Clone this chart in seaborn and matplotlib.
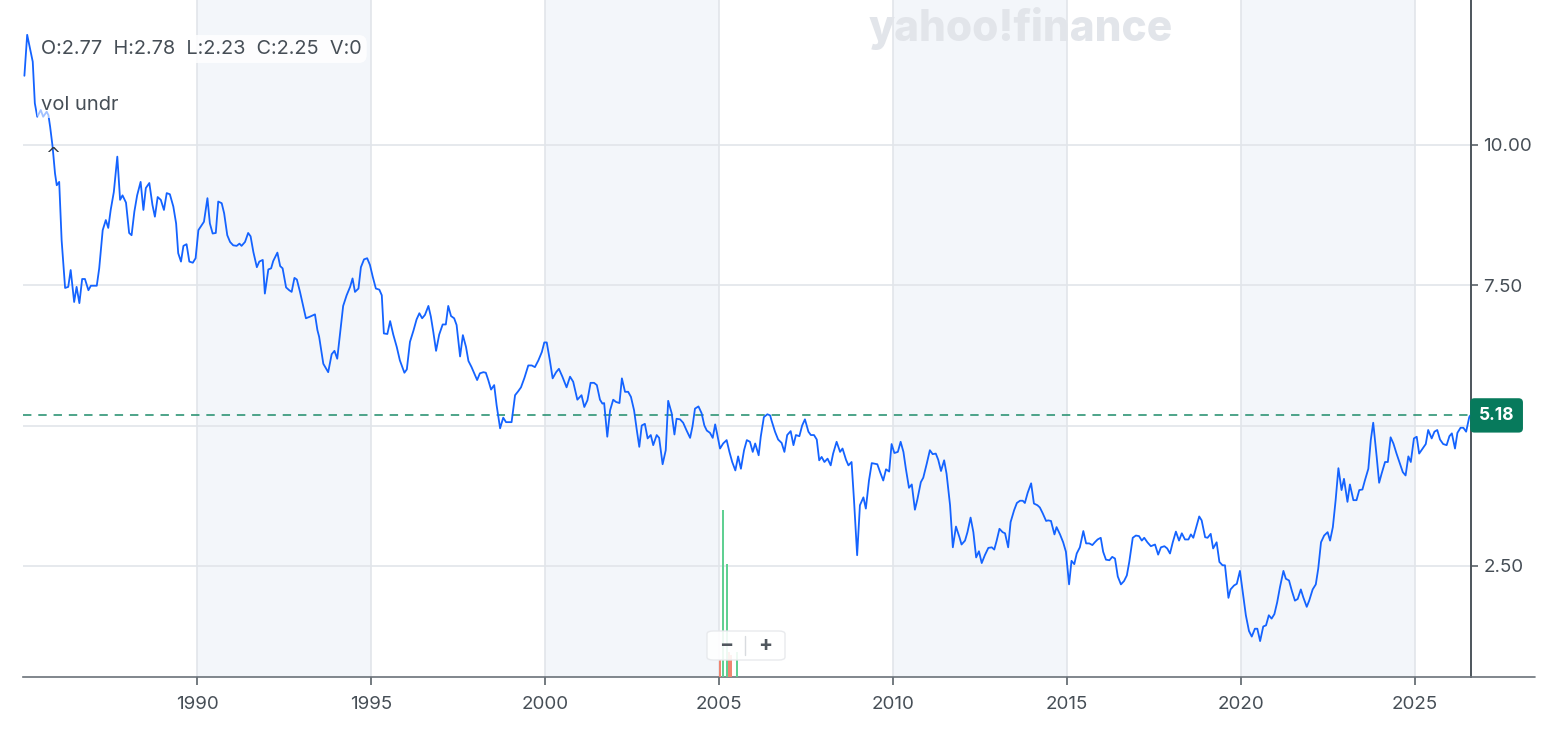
import matplotlib
matplotlib.use("Agg")
import matplotlib.pyplot as plt
from matplotlib.lines import Line2D
from matplotlib.patches import FancyBboxPatch
import seaborn as sns
import pandas as pd

# monthly 30y yield (fractional year, percent)
dates = [
    1985.04, 1985.12, 1985.28, 1985.34, 1985.41, 1985.51, 1985.58, 1985.68, 1985.73, 1985.78,
    1985.85, 1985.92, 1985.97, 1986.04, 1986.11, 1986.21, 1986.30, 1986.37, 1986.47, 1986.54,
    1986.62, 1986.70, 1986.78, 1986.88, 1986.95, 1987.12, 1987.19, 1987.29, 1987.38, 1987.45,
    1987.52, 1987.61, 1987.71, 1987.79, 1987.86, 1987.96, 1988.05, 1988.12, 1988.20, 1988.28,
    1988.38, 1988.46, 1988.53, 1988.63, 1988.72, 1988.79, 1988.87, 1988.96, 1989.05, 1989.13,
    1989.22, 1989.32, 1989.40, 1989.46, 1989.54, 1989.61, 1989.70, 1989.78, 1989.88, 1989.96,
    1990.04, 1990.20, 1990.30, 1990.37, 1990.45, 1990.54, 1990.61, 1990.71, 1990.78, 1990.87,
    1990.95, 1991.04, 1991.14, 1991.22, 1991.28, 1991.38, 1991.47, 1991.54, 1991.62, 1991.72,
    1991.79, 1991.89, 1991.95, 1992.05, 1992.13, 1992.19, 1992.31, 1992.39, 1992.46, 1992.56,
    1992.65, 1992.72, 1992.80, 1992.87, 1992.96, 1993.04, 1993.13, 1993.25, 1993.39, 1993.46,
    1993.51, 1993.63, 1993.77, 1993.87, 1993.95, 1994.03, 1994.11, 1994.20, 1994.30, 1994.40,
    1994.47, 1994.54, 1994.64, 1994.71, 1994.80, 1994.89, 1994.97, 1995.05, 1995.14, 1995.24,
    1995.31, 1995.37, 1995.47, 1995.55, 1995.64, 1995.74, 1995.83, 1995.96, 1996.03, 1996.12,
    1996.22, 1996.31, 1996.39, 1996.47, 1996.55, 1996.65, 1996.72, 1996.79, 1996.87, 1996.96,
    1997.06, 1997.15, 1997.22, 1997.30, 1997.39, 1997.46, 1997.56, 1997.64, 1997.73, 1997.80,
    1997.89, 1997.96, 1998.05, 1998.13, 1998.23, 1998.30, 1998.37, 1998.45, 1998.54, 1998.61,
    1998.71, 1998.80, 1998.88, 1999.04, 1999.14, 1999.23, 1999.31, 1999.41, 1999.52, 1999.62,
    1999.71, 1999.81, 1999.91, 1999.98, 2000.05, 2000.14, 2000.22, 2000.32, 2000.40, 2000.50,
    2000.62, 2000.72, 2000.81, 2000.93, 2001.05, 2001.13, 2001.22, 2001.31, 2001.41, 2001.49,
    2001.58, 2001.65, 2001.70, 2001.79, 2001.87, 2001.96, 2002.04, 2002.14, 2002.21, 2002.30,
    2002.39, 2002.47, 2002.56, 2002.64, 2002.71, 2002.78, 2002.87, 2002.95, 2003.04, 2003.11,
    2003.21, 2003.28, 2003.38, 2003.47, 2003.54, 2003.64, 2003.72, 2003.78, 2003.88, 2003.97,
    2004.07, 2004.17, 2004.24, 2004.31, 2004.41, 2004.50, 2004.58, 2004.65, 2004.74, 2004.82,
    2004.89, 2004.96, 2005.03, 2005.12, 2005.22, 2005.30, 2005.38, 2005.47, 2005.55, 2005.63,
    2005.72, 2005.80, 2005.89, 2005.97, 2006.04, 2006.14, 2006.20, 2006.29, 2006.39, 2006.47,
    2006.51, 2006.61, 2006.70, 2006.80, 2006.88, 2006.96, 2007.06, 2007.14, 2007.21, 2007.31,
    2007.39, 2007.47, 2007.57, 2007.64, 2007.73, 2007.81, 2007.88, 2007.95, 2008.03, 2008.12,
    2008.21, 2008.28, 2008.38, 2008.48, 2008.55, 2008.65, 2008.72, 2008.81, 2008.88, 2008.97,
    2009.05, 2009.15, 2009.22, 2009.31, 2009.39, 2009.55, 2009.63, 2009.72, 2009.80, 2009.89,
    2009.96, 2010.04, 2010.14, 2010.22, 2010.30, 2010.37, 2010.46, 2010.54, 2010.63, 2010.70,
    2010.80, 2010.87, 2010.97, 2011.06, 2011.14, 2011.23, 2011.30, 2011.38, 2011.47, 2011.54,
    2011.64, 2011.72, 2011.81, 2011.91, 2011.97, 2012.07, 2012.14, 2012.23, 2012.31, 2012.39,
    2012.47, 2012.55, 2012.64, 2012.74, 2012.84, 2012.91, 2012.98, 2013.06, 2013.15, 2013.22,
    2013.31, 2013.38, 2013.48, 2013.56, 2013.65, 2013.73, 2013.79, 2013.87, 2013.97, 2014.05,
    2014.15, 2014.22, 2014.30, 2014.40, 2014.46, 2014.54, 2014.64, 2014.70, 2014.80, 2014.89,
    2014.97, 2015.06, 2015.13, 2015.21, 2015.28, 2015.37, 2015.47, 2015.55, 2015.64, 2015.73,
    2015.80, 2015.88, 2015.97, 2016.04, 2016.12, 2016.22, 2016.30, 2016.38, 2016.46, 2016.55,
    2016.64, 2016.72, 2016.79, 2016.89, 2016.98, 2017.07, 2017.15, 2017.22, 2017.31, 2017.41,
    2017.53, 2017.62, 2017.70, 2017.80, 2017.88, 2017.96, 2018.04, 2018.13, 2018.22, 2018.30,
    2018.39, 2018.49, 2018.56, 2018.63, 2018.73, 2018.80, 2018.87, 2018.97, 2019.04, 2019.13,
    2019.20, 2019.30, 2019.38, 2019.47, 2019.54, 2019.64, 2019.70, 2019.80, 2019.88, 2019.97,
    2020.07, 2020.14, 2020.23, 2020.31, 2020.40, 2020.47, 2020.55, 2020.64, 2020.72, 2020.80,
    2020.88, 2020.96, 2021.04, 2021.12, 2021.22, 2021.29, 2021.38, 2021.46, 2021.55, 2021.63,
    2021.72, 2021.79, 2021.89, 2021.96, 2022.06, 2022.15, 2022.22, 2022.30, 2022.39, 2022.49,
    2022.56, 2022.64, 2022.72, 2022.80, 2022.89, 2022.96, 2023.06, 2023.13, 2023.23, 2023.32,
    2023.40, 2023.49, 2023.56, 2023.66, 2023.73, 2023.80, 2023.90, 2023.97, 2024.04, 2024.14,
    2024.22, 2024.30, 2024.38, 2024.47, 2024.57, 2024.65, 2024.73, 2024.81, 2024.88, 2024.97,
    2025.05, 2025.12, 2025.22, 2025.31, 2025.38, 2025.48, 2025.56, 2025.64, 2025.72, 2025.81,
    2025.91, 2025.99, 2026.06, 2026.15, 2026.22, 2026.31, 2026.39, 2026.47, 2026.56, 2026.59,
]
yields = [
    11.23, 11.96, 11.48, 10.74, 10.50, 10.62, 10.50, 10.59, 10.53, 10.32,
    9.97, 9.49, 9.28, 9.34, 8.30, 7.45, 7.47, 7.77, 7.20, 7.47,
    7.18, 7.61, 7.61, 7.41, 7.49, 7.49, 7.80, 8.48, 8.66, 8.52,
    8.84, 9.16, 9.79, 9.02, 9.10, 8.97, 8.43, 8.39, 8.81, 9.10,
    9.34, 8.84, 9.23, 9.32, 8.93, 8.72, 9.07, 9.02, 8.84, 9.14,
    9.12, 8.90, 8.60, 8.07, 7.92, 8.20, 8.23, 7.92, 7.90, 7.98,
    8.48, 8.63, 9.05, 8.60, 8.42, 8.43, 8.99, 8.96, 8.78, 8.39,
    8.27, 8.21, 8.20, 8.24, 8.20, 8.27, 8.43, 8.37, 8.09, 7.82,
    7.92, 7.95, 7.35, 7.78, 7.80, 7.93, 8.08, 7.84, 7.80, 7.46,
    7.41, 7.38, 7.63, 7.60, 7.38, 7.16, 6.91, 6.94, 6.98, 6.70,
    6.58, 6.10, 5.95, 6.27, 6.33, 6.19, 6.64, 7.13, 7.32, 7.47,
    7.62, 7.38, 7.44, 7.82, 7.96, 7.98, 7.86, 7.65, 7.44, 7.42,
    7.32, 6.64, 6.63, 6.86, 6.62, 6.40, 6.16, 5.94, 6.00, 6.49,
    6.69, 6.89, 7.00, 6.91, 6.97, 7.13, 6.94, 6.67, 6.33, 6.62,
    6.80, 6.80, 7.13, 6.95, 6.91, 6.79, 6.23, 6.61, 6.40, 6.15,
    6.04, 5.94, 5.81, 5.93, 5.95, 5.94, 5.81, 5.64, 5.72, 5.36,
    4.95, 5.14, 5.06, 5.06, 5.54, 5.61, 5.68, 5.85, 6.07, 6.07,
    6.04, 6.16, 6.31, 6.48, 6.48, 6.16, 5.84, 5.95, 6.01, 5.87,
    5.68, 5.87, 5.78, 5.46, 5.54, 5.33, 5.45, 5.76, 5.76, 5.72,
    5.46, 5.39, 5.40, 4.80, 5.27, 5.46, 5.42, 5.40, 5.84, 5.60,
    5.60, 5.51, 5.27, 4.91, 4.62, 5.00, 5.03, 4.77, 4.83, 4.65,
    4.83, 4.78, 4.31, 4.56, 5.44, 5.22, 4.84, 5.12, 5.11, 5.05,
    4.91, 4.78, 4.99, 5.30, 5.34, 5.22, 5.00, 4.91, 4.87, 4.78,
    5.02, 4.81, 4.59, 4.68, 4.74, 4.53, 4.35, 4.20, 4.45, 4.23,
    4.56, 4.74, 4.71, 4.53, 4.68, 4.47, 4.80, 5.15, 5.20, 5.18,
    5.09, 4.89, 4.75, 4.69, 4.53, 4.83, 4.90, 4.65, 4.83, 4.81,
    5.00, 5.11, 4.89, 4.83, 4.83, 4.75, 4.38, 4.44, 4.35, 4.41,
    4.29, 4.50, 4.71, 4.53, 4.59, 4.39, 4.29, 4.35, 3.67, 2.69,
    3.58, 3.72, 3.52, 4.02, 4.33, 4.31, 4.17, 4.02, 4.22, 4.18,
    4.67, 4.51, 4.53, 4.71, 4.53, 4.23, 3.89, 3.95, 3.50, 3.68,
    3.99, 4.07, 4.32, 4.56, 4.49, 4.50, 4.39, 4.19, 4.38, 4.14,
    3.58, 2.83, 3.20, 3.01, 2.88, 2.95, 3.10, 3.36, 3.10, 2.65,
    2.76, 2.55, 2.69, 2.82, 2.83, 2.79, 2.95, 3.16, 3.10, 3.08,
    2.83, 3.28, 3.49, 3.62, 3.66, 3.66, 3.62, 3.80, 3.97, 3.61,
    3.58, 3.54, 3.44, 3.30, 3.31, 3.30, 3.06, 3.19, 3.06, 2.92,
    2.75, 2.17, 2.59, 2.53, 2.72, 2.83, 3.12, 2.90, 2.90, 2.87,
    2.92, 2.97, 3.00, 2.75, 2.61, 2.60, 2.66, 2.63, 2.31, 2.17,
    2.23, 2.33, 2.57, 3.00, 3.04, 3.03, 2.95, 3.00, 2.92, 2.85,
    2.88, 2.70, 2.83, 2.85, 2.81, 2.72, 2.92, 3.11, 2.95, 3.08,
    2.97, 2.97, 3.06, 3.00, 3.22, 3.38, 3.31, 3.01, 3.00, 3.07,
    2.81, 2.92, 2.57, 2.51, 2.51, 1.93, 2.08, 2.15, 2.18, 2.41,
    1.94, 1.62, 1.34, 1.24, 1.38, 1.38, 1.16, 1.42, 1.44, 1.62,
    1.56, 1.64, 1.85, 2.12, 2.41, 2.27, 2.24, 2.06, 1.88, 1.91,
    2.08, 1.94, 1.77, 1.88, 2.08, 2.17, 2.45, 2.92, 3.04, 3.10,
    2.95, 3.19, 3.67, 4.24, 3.85, 4.05, 3.64, 3.95, 3.67, 3.67,
    3.85, 3.86, 4.02, 4.23, 4.74, 5.05, 4.44, 3.98, 4.14, 4.35,
    4.35, 4.79, 4.68, 4.50, 4.32, 4.17, 4.11, 4.45, 4.35, 4.77,
    4.80, 4.50, 4.59, 4.67, 4.92, 4.77, 4.89, 4.92, 4.75, 4.67,
    4.65, 4.81, 4.86, 4.59, 4.87, 4.96, 4.96, 4.89, 5.15, 5.18,
]

# the few volume bars that show up near 2005
vol_dates = [2005.03, 2005.12, 2005.22, 2005.30, 2005.34, 2005.51]
vol_values = [2.5, 24.7, 16.7, 3.7, 3.2, 3.7]
vol_colors = ["#f0826e", "#5ccf8f", "#5ccf8f", "#f0826e", "#f0826e", "#5ccf8f"]

last_price = 5.18
y_ticks = [2.5, 5.0, 7.5, 10.0]
y_labels = ["2.50", "", "7.50", "10.00"]   # 5.00 sits under the price tag
x_ticks = [1990, 1995, 2000, 2005, 2010, 2015, 2020, 2025]
band_starts = [1990, 2000, 2010, 2020]

df = pd.DataFrame({"date": dates, "yield": yields})

sns.set_theme(style="white")
plt.rcParams["font.family"] = ["Inter", "DejaVu Sans"]

W, H = 1542, 736
fig = plt.figure(figsize=(W / 100, H / 100), dpi=100)
ax = fig.add_axes([23 / W, 59 / H, (1471 - 23) / W, 677 / H])

text_col = "#464e56"
grid_col = "#e1e5ea"

# volume underlay (twin axis made first, it moves the main ticks around)
ax2 = ax.twinx()
ax2.vlines(vol_dates, 0, vol_values, colors=vol_colors, lw=1.4)
ax2.set_ylim(0, 100)
ax2.set_yticks([])
ax2.grid(False)
for s in ax2.spines.values():
    s.set_visible(False)

for b in band_starts:
    ax.axvspan(b, b + 5, color="#f3f6fa", zorder=0, lw=0)

sns.lineplot(data=df, x="date", y="yield", ax=ax, color="#1463ff", lw=1.3, zorder=3)
ax.axhline(last_price, color="#1d8c6a", lw=1.1, ls=(0, (5.5, 4.5)), zorder=2)

ax.set_xlim(1985.0, 2026.61)
ax.set_ylim(0.52, 12.58)
ax.set_xlabel("")
ax.set_ylabel("")

ax.set_xticks(x_ticks)
ax.set_xticklabels([str(t) for t in x_ticks])
ax.set_yticks(y_ticks)
ax.set_yticklabels(y_labels)
ax.tick_params(axis="x", length=6, width=1.2, color="#5b636a", pad=8,
               labelsize=13.5, labelcolor=text_col, bottom=True)
ax.tick_params(axis="y", length=5, width=1.2, color="#5b636a", pad=4,
               labelsize=13.5, labelcolor=text_col, right=True, left=False,
               labelright=True, labelleft=False)

ax.grid(True, color=grid_col, lw=1.2)
ax.set_axisbelow(True)
for s in ["top", "left"]:
    ax.spines[s].set_visible(False)
ax.spines["right"].set_visible(True)
ax.spines["right"].set_color("#4d555c")
ax.spines["right"].set_linewidth(1.4)
ax.spines["bottom"].set_color("#6b7279")
ax.spines["bottom"].set_linewidth(1.2)

# bottom axis line runs past the price scale
fig.add_artist(Line2D([1471 / W, 1535 / W], [59 / H, 59 / H], color="#6b7279", lw=1.2))

# last price tag
ax.annotate(f"{last_price:.2f}", xy=(1, last_price), xycoords=("axes fraction", "data"),
            xytext=(5.6, 0), textcoords="offset points", ha="left", va="center",
            fontsize=12.5, fontweight="bold", color="white", zorder=10,
            annotation_clip=False,
            bbox=dict(boxstyle="round,pad=0.5,rounding_size=0.25", fc="#077a5c", ec="none"))

# legend strip top-left
fig.text(41 / W, 1 - 49 / H, "O:2.77  H:2.78  L:2.23  C:2.25  V:0", ha="left", va="center",
         fontsize=14.3, color=text_col,
         bbox=dict(boxstyle="round,pad=0.25,rounding_size=0.4", fc="white", ec="none", alpha=0.85))
fig.text(41 / W, 1 - 105 / H, "vol undr", ha="left", va="center", fontsize=14.5, color=text_col,
         bbox=dict(boxstyle="round,pad=0.2", fc="white", ec="none", alpha=0.6))
fig.text(53 / W, 1 - 155 / H, "^", ha="center", va="center", fontsize=13, color="#333a40",
         family="DejaVu Sans")

# watermark
fig.text(1021 / W, 1 - 29 / H, "yahoo!finance", ha="center", va="center", fontsize=30.5,
         fontweight="heavy", color="#e2e5ea")

# zoom buttons
btn = FancyBboxPatch((707 / W, 1 - 660 / H), 78 / W, 29 / H,
                     boxstyle="round,pad=0,rounding_size=0.004", transform=fig.transFigure,
                     fc="white", ec="#e6e8eb", lw=1, alpha=0.9, zorder=20)
fig.add_artist(btn)
fig.add_artist(Line2D([745 / W, 745 / W], [1 - 655 / H, 1 - 636 / H], color="#d8dbdf", lw=1, zorder=21))
fig.text(726 / W, 1 - 645 / H, "\u2212", ha="center", va="center", fontsize=15, fontweight="bold",
         color="#50575e", zorder=22)
fig.text(765 / W, 1 - 645 / H, "+", ha="center", va="center", fontsize=15, fontweight="bold",
         color="#50575e", zorder=22)

fig.savefig("out.png", dpi=100)
